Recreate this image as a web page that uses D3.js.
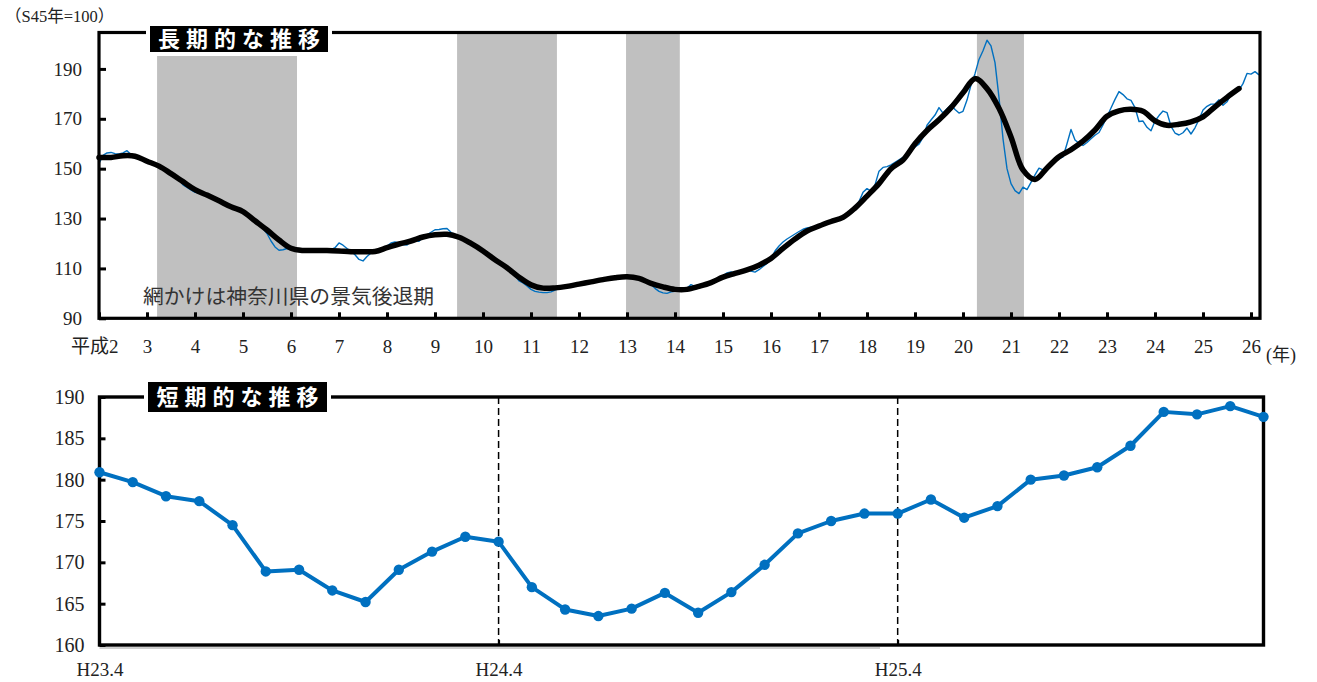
<!DOCTYPE html>
<html>
<head>
<meta charset="utf-8">
<script src="https://cdn.jsdelivr.net/npm/d3@7"></script>
<style>
  body { margin: 0; background: #fff; }
  svg { display: block; }
  .num { font-family: "Liberation Serif", "DejaVu Serif", "Noto Sans CJK JP", serif; fill: #222; }
  .jp { font-family: "Noto Sans CJK JP", sans-serif; }
</style>
</head>
<body>
<svg id="chart" width="1317" height="682"></svg>
<script>
// ---- long-term chart: Heisei year ticks
const longYears = [2, 3, 4, 5, 6, 7, 8, 9, 10, 11, 12, 13, 14, 15, 16, 17, 18, 19, 20, 21, 22, 23, 24, 25, 26];
const longYTicks = [90, 110, 130, 150, 170, 190];

// Kanagawa recession periods (Heisei year, fractional)
const recessionStart = [3.21, 9.46, 12.98, 20.29];
const recessionEnd = [6.125, 11.54, 14.1, 21.27];

// monthly index H2.1 - H23.3 (S45=100)
const monthlyIndex = [
  152.1, 155.3, 156.3, 156.5, 156.0, 155.9, 156.3, 157.2, 155.7, 155.0, 154.6, 154.0,
  153.2, 152.4, 151.6, 151.0, 150.2, 149.2, 148.0, 146.8, 145.5, 143.5, 142.5, 141.5,
  140.5, 140.3, 139.8, 139.2, 138.4, 137.6, 137.0, 136.3, 135.5, 134.2, 133.6, 133.6,
  133.0, 132.0, 130.5, 129.2, 127.6, 126.0, 124.0, 121.0, 118.6, 117.3, 117.5, 118.0,
  117.8, 117.3, 117.2, 117.2, 117.0, 117.2, 117.2, 117.3, 117.2, 117.0, 117.5, 118.3,
  120.2, 119.3, 118.0, 116.9, 115.5, 113.6, 113.0, 114.8, 116.2, 116.8, 117.2, 117.8,
  119.0, 120.2, 120.6, 120.2, 119.6, 119.4, 120.8, 121.2, 120.9, 122.5, 123.5, 124.5,
  125.5, 125.6, 125.9, 126.0, 124.5, 123.2, 122.4, 121.6, 120.8, 120.0, 119.0, 118.0,
  116.8, 116.0, 114.5, 113.3, 112.0, 110.8, 110.0, 108.8, 107.0, 105.0, 104.2, 103.0,
  101.6, 100.8, 100.5, 100.3, 100.3, 100.6, 101.3, 102.0, 102.4, 102.8, 103.0, 103.2,
  103.5, 104.2, 104.0, 104.5, 105.2, 105.0, 105.6, 106.0, 106.3, 106.5, 106.8, 107.0,
  107.2, 107.0, 106.8, 106.2, 105.5, 104.6, 103.6, 102.0, 100.8, 100.2, 100.0, 100.6,
  100.8, 101.0, 101.5, 102.0, 103.5, 102.8, 102.6, 103.2, 103.8, 104.3, 105.0, 106.0,
  107.0, 108.2, 108.6, 108.2, 108.3, 109.0, 109.4, 108.9, 108.5, 109.5, 110.8, 112.0,
  114.0, 117.0, 119.0, 120.6, 121.8, 122.8, 123.8, 124.8, 125.7, 126.2, 126.5, 126.8,
  127.2, 127.8, 128.4, 129.2, 129.5, 129.6, 130.5, 132.0, 133.2, 134.6, 136.8, 140.5,
  142.0, 141.0, 143.5, 149.0, 150.5, 150.8, 151.5, 152.5, 153.5, 154.5, 155.5, 157.0,
  158.7, 159.8, 162.5, 167.4, 169.5, 171.5, 174.5, 172.3, 174.0, 175.5, 173.7, 172.3,
  173.0, 177.5, 183.5, 188.1, 193.8, 197.3, 201.5, 199.2, 192.5, 178.5, 162.0, 150.0,
  144.0, 141.2, 140.0, 142.6, 141.6, 144.5, 147.5, 150.2, 149.5, 150.8, 152.0, 153.2,
  154.0, 154.7, 160.0, 165.7, 161.5, 160.2, 159.3, 160.5, 162.0, 163.4, 164.5, 167.5,
  170.8, 174.3, 177.8
];

// trend (smoothed), every 3 months from H2.1
const trendQuarterly = [
  154.5, 154.5, 155.2, 155.0,  153.0, 151.0, 148.0, 144.8,  141.6, 139.4, 137.1, 134.7,
  132.8, 129.1, 125.4, 121.4,  118.1, 117.2, 117.2, 117.2,  117.0, 116.7, 116.7, 116.8,
  118.3, 119.8, 121.0, 122.6,  123.5, 123.7, 122.5, 120.0,  117.0, 113.5, 110.3, 106.5,
  103.4, 102.1, 102.2, 102.8,  103.7, 104.6, 105.5, 106.3,  106.7, 106.0, 104.0, 102.6,
  101.6, 101.6, 102.8, 104.3,  106.5, 108.0, 109.4, 111.3,  114.0, 118.0, 121.8, 125.0,
  127.0, 128.8, 130.5, 134.2,  139.0, 144.0, 150.0, 153.5,  160.0, 165.3, 169.6, 174.5,
  180.4, 186.1, 182.1, 174.2,  162.7, 149.5, 145.7, 150.3,  154.8, 157.6, 161.0, 165.5,
  171.0, 173.2, 173.8, 173.0,  169.2, 167.4, 167.8, 168.8,  170.8, 174.8, 178.6, 182.1
];

// ---- short-term chart: monthly H23.4 - H26.3
const shortValues = [
  180.9, 179.7, 178.0, 177.4, 174.5, 168.9, 169.1, 166.6, 165.2, 169.1, 171.3, 173.1,
  172.5, 167.0, 164.3, 163.5, 164.4, 166.3, 163.9, 166.4, 169.7, 173.5, 175.0, 175.9,
  175.9, 177.6, 175.4, 176.8, 180.0, 180.5, 181.5, 184.1, 188.2, 187.9, 188.9, 187.6
];
const shortYTicks = [160, 165, 170, 175, 180, 185, 190];
const shortTickIdx = [0, 12, 24];
const shortTickLabels = ['H23.4', 'H24.4', 'H25.4'];

const blue = '#0070c0';
const svg = d3.select('#chart');

function titleBox(g, x, y, w, h, label) {
    g.append('rect').attr('x', x - 4).attr('y', y - 4).attr('width', w + 8).attr('height', h + 8).attr('fill', '#fff');
    g.append('rect').attr('x', x).attr('y', y).attr('width', w).attr('height', h).attr('fill', '#000');
    g.append('text').attr('class', 'jp')
        .attr('x', x + w / 2 + 3).attr('y', y + h / 2)
        .attr('dy', '0.36em')
        .attr('text-anchor', 'middle')
        .attr('fill', '#fff')
        .attr('font-size', 22)
        .attr('font-weight', 700)
        .attr('letter-spacing', 6)
        .text(label);
}

// ================= long-term chart =================
const L = {left: 99, right: 1260, top: 32.5, bottom: 318.3};
const xL = d3.scaleLinear().domain([2, 26.1875]).range([L.left, L.right]);
const yL = d3.scaleLinear().domain([90, 204.6]).range([L.bottom, L.top]);
const gL = svg.append('g');

gL.selectAll('rect.band').data(recessionStart).enter().append('rect')
    .attr('class', 'band')
    .attr('x', d => xL(d))
    .attr('width', (d, i) => xL(recessionEnd[i]) - xL(d))
    .attr('y', L.top)
    .attr('height', L.bottom - L.top)
    .attr('fill', '#c0c0c0');

gL.append('text').attr('class', 'jp')
    .attr('x', 143).attr('y', 304)
    .attr('font-size', 20.8)
    .attr('fill', '#333')
    .text('網かけは神奈川県の景気後退期');

const longSeries = monthlyIndex.concat(shortValues);
gL.append('path')
    .datum(longSeries)
    .attr('fill', 'none')
    .attr('stroke', blue)
    .attr('stroke-width', 1.4)
    .attr('stroke-linejoin', 'round')
    .attr('d', d3.line().x((d, i) => xL(2 + i / 12)).y(d => yL(d)));

gL.append('path')
    .datum(trendQuarterly)
    .attr('fill', 'none')
    .attr('stroke', '#000')
    .attr('stroke-width', 5.5)
    .attr('stroke-linejoin', 'round')
    .attr('stroke-linecap', 'round')
    .attr('d', d3.line().curve(d3.curveCatmullRom).x((d, i) => xL(2 + i * 3 / 12)).y(d => yL(d)));

gL.append('rect')
    .attr('x', L.left).attr('y', L.top)
    .attr('width', L.right - L.left).attr('height', L.bottom - L.top)
    .attr('fill', 'none').attr('stroke', '#000').attr('stroke-width', 3.2);

gL.append('g')
    .attr('transform', 'translate(' + L.left + ',0)')
    .call(d3.axisLeft(yL).tickValues(longYTicks).tickSize(-7).tickPadding(17))
    .call(g => g.select('.domain').remove())
    .call(g => g.selectAll('line').attr('stroke', '#000').attr('stroke-width', 3))
    .call(g => g.selectAll('text').attr('class', 'num').attr('font-size', 19));

gL.append('g')
    .attr('transform', 'translate(0,' + L.bottom + ')')
    .call(d3.axisBottom(xL).tickValues(longYears).tickSize(-6).tickPadding(21)
        .tickFormat(d => d === 2 ? '平成2' : d))
    .call(g => g.select('.domain').remove())
    .call(g => g.selectAll('line').attr('stroke', '#000').attr('stroke-width', 3))
    .call(g => g.selectAll('text').attr('class', 'num').attr('font-size', 19))
    .call(g => g.selectAll('text').filter(d => d === 2).attr('text-anchor', 'end').attr('dx', 19));

svg.append('text').attr('class', 'num')
    .attr('x', 5).attr('y', 22)
    .attr('font-size', 16.5)
    .text('（S45年=100）');

svg.append('text').attr('class', 'num')
    .attr('x', 1266).attr('y', 361)
    .attr('font-size', 18)
    .text('(年)');

titleBox(gL, 150, 26, 178, 26, '長期的な推移');

// ================= short-term chart =================
const S = {left: 99.5, right: 1263.5, top: 397, bottom: 645};
const xS = d3.scaleLinear().domain([0, shortValues.length - 1]).range([S.left, S.right]);
const yS = d3.scaleLinear().domain([160, 190]).range([S.bottom, S.top]);
const gS = svg.append('g');

gS.append('line')
    .attr('x1', S.left).attr('x2', 880)
    .attr('y1', S.bottom + 3).attr('y2', S.bottom + 3)
    .attr('stroke', '#cfcfcf').attr('stroke-width', 2);

gS.selectAll('line.split').data(shortTickIdx.slice(1)).enter().append('line')
    .attr('class', 'split')
    .attr('x1', d => xS(d)).attr('x2', d => xS(d))
    .attr('y1', S.top).attr('y2', S.bottom)
    .attr('stroke', '#000').attr('stroke-width', 1.5)
    .attr('stroke-dasharray', '7,4');

gS.append('rect')
    .attr('x', S.left).attr('y', S.top)
    .attr('width', S.right - S.left).attr('height', S.bottom - S.top)
    .attr('fill', 'none').attr('stroke', '#000').attr('stroke-width', 3.4);

gS.append('path')
    .datum(shortValues)
    .attr('fill', 'none')
    .attr('stroke', blue)
    .attr('stroke-width', 4)
    .attr('stroke-linejoin', 'round')
    .attr('d', d3.line().x((d, i) => xS(i)).y(d => yS(d)));

gS.selectAll('circle').data(shortValues).enter().append('circle')
    .attr('cx', (d, i) => xS(i))
    .attr('cy', d => yS(d))
    .attr('r', 5.2)
    .attr('fill', blue);

gS.append('g')
    .attr('transform', 'translate(' + S.left + ',0)')
    .call(d3.axisLeft(yS).tickValues(shortYTicks).tickSize(-6).tickPadding(15))
    .call(g => g.select('.domain').remove())
    .call(g => g.selectAll('line').attr('stroke', '#000').attr('stroke-width', 3))
    .call(g => g.selectAll('text').attr('class', 'num').attr('font-size', 20));

gS.append('g')
    .attr('transform', 'translate(0,' + S.bottom + ')')
    .call(d3.axisBottom(xS).tickValues(shortTickIdx).tickSize(-5).tickPadding(18)
        .tickFormat((d, i) => shortTickLabels[i]))
    .call(g => g.select('.domain').remove())
    .call(g => g.selectAll('line').attr('stroke', '#000').attr('stroke-width', 2))
    .call(g => g.selectAll('text').attr('class', 'num').attr('font-size', 19));

titleBox(gS, 148, 382, 179, 30, '短期的な推移');
</script>
</body>
</html>
